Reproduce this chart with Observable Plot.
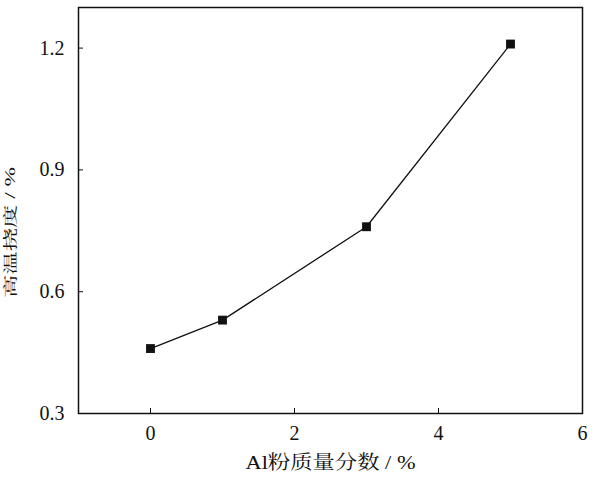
<!DOCTYPE html>
<html><head><meta charset="utf-8">
<script src="https://cdn.jsdelivr.net/npm/d3@7"></script>
<script src="https://cdn.jsdelivr.net/npm/@observablehq/plot@0.6"></script>
<style>
body{margin:0;background:#fff}
</style>
</head><body><div id="chart"></div>
<script>
const alContent = [0, 1, 3, 5];
const deflection = [0.46, 0.53, 0.76, 1.21];
const xTicks = [0, 2, 4, 6];
const yTicks = [0.3, 0.6, 0.9, 1.2];
const xLabel = "Al粉质量分数 / %";
const yLabel = "高温挠度 / %";

const data = alContent.map((x, i) => ({x, y: deflection[i]}));
const font = "'Liberation Serif', 'Times New Roman', 'Noto Serif CJK SC', 'Noto Sans CJK SC', serif";

const plot = Plot.plot({
  width: 601, height: 486,
  marginLeft: 78, marginRight: 19, marginTop: 7, marginBottom: 73,
  style: {fontFamily: font, fontSize: "20px", color: "#111", background: "#fff"},
  x: {domain: [-1, 6]},
  y: {domain: [0.3, 1.3]},
  marks: [
    Plot.frame({stroke: "#111", strokeWidth: 1.5}),
    Plot.axisX({ticks: xTicks, tickSize: 5, dy: -5, tickFormat: () => "", label: null}),
    Plot.axisX({ticks: xTicks, tickSize: 0, tickPadding: 12, tickFormat: d3.format("d"), label: null, fontFamily: font, fontSize: 20}),
    Plot.axisY({ticks: yTicks, tickSize: 5, dx: 5, tickFormat: () => "", label: null}),
    Plot.axisY({ticks: yTicks, tickSize: 0, tickPadding: 14, tickFormat: d3.format(".1f"), label: null, fontFamily: font, fontSize: 20}),
    Plot.line(data, {x: "x", y: "y", stroke: "#111", strokeWidth: 1.3}),
    Plot.dot(data, {x: "x", y: "y", symbol: "square", r: 5, fill: "#111", stroke: null}),
    Plot.text([xLabel], {frameAnchor: "bottom", textAnchor: "middle", dy: 55, fontSize: 19, fontFamily: font, fill: "#111"}),
    Plot.text([yLabel], {frameAnchor: "left", textAnchor: "middle", dx: -68, dy: 22, rotate: -90, fontSize: 14, fontFamily: font, fill: "#111"})
  ]
});
d3.select(plot).selectAll("text").each(function() {
  if (this.textContent === yLabel) {
    this.setAttribute("textLength", 131);
    this.setAttribute("lengthAdjust", "spacingAndGlyphs");
  } else if (this.textContent === xLabel) {
    this.setAttribute("textLength", 170);
    this.setAttribute("lengthAdjust", "spacingAndGlyphs");
  }
});
document.getElementById("chart").append(plot);
</script>
</body></html>
